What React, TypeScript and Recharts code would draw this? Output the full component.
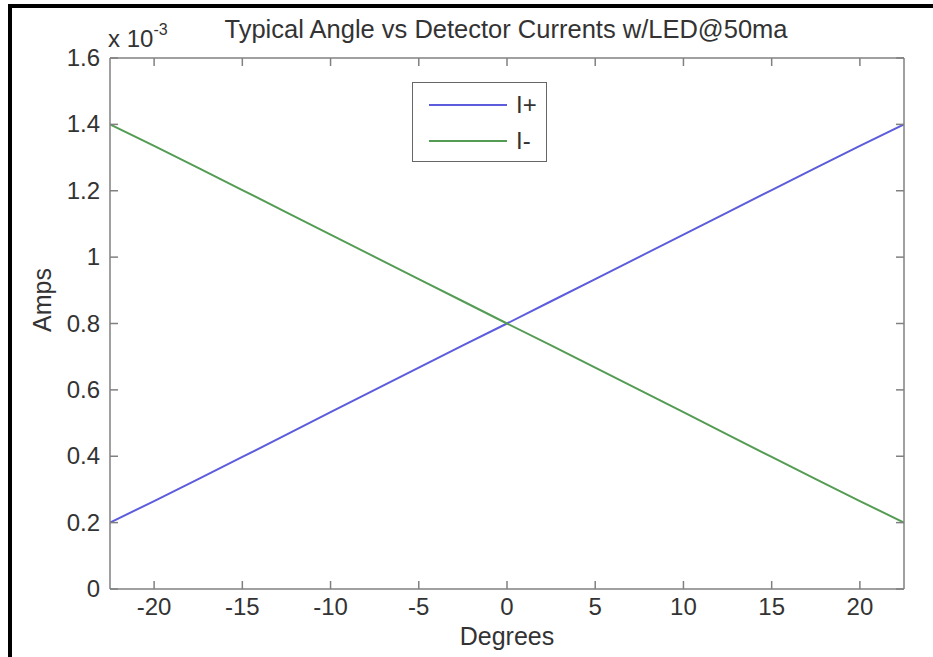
import React from 'react';
import { LineChart, Line, XAxis, YAxis, Legend, Label } from 'recharts';

// angle in degrees, currents in units of 1e-3 A
const degrees = [-22.5, -20, -17.5, -15, -12.5, -10, -7.5, -5, -2.5, 0, 2.5, 5, 7.5, 10, 12.5, 15, 17.5, 20, 22.5];
const iPlus = [0.2, 0.265, 0.331, 0.398, 0.465, 0.533, 0.6, 0.667, 0.734, 0.8, 0.867, 0.934, 1.001, 1.068, 1.135, 1.202, 1.269, 1.335, 1.4];
const iMinus = [1.4, 1.335, 1.269, 1.202, 1.135, 1.068, 1.001, 0.934, 0.867, 0.8, 0.734, 0.667, 0.6, 0.533, 0.465, 0.398, 0.331, 0.265, 0.2];

const xTicks = [-20, -15, -10, -5, 0, 5, 10, 15, 20];
const yTicks = [0, 0.2, 0.4, 0.6, 0.8, 1, 1.2, 1.4, 1.6];
const yTickLabels = ['0', '0.2', '0.4', '0.6', '0.8', '1', '1.2', '1.4', '1.6'];

const series = [
  { key: 'iPlus', name: 'I+', color: '#5c5cdc' },
  { key: 'iMinus', name: 'I-', color: '#549c54' },
];

const data = degrees.map((d, i) => ({ deg: d, iPlus: iPlus[i], iMinus: iMinus[i] }));

const FONT = '"Liberation Sans", Arial, sans-serif';
const AXIS = '#808080';
const TEXT = '#333333';
const TICK_LEN = 8;

// tick marks point into the plot, like MATLAB axes
const BottomTick = (props: any) => {
  const { x, y, payload } = props;
  return (
    <g>
      <line x1={x} x2={x} y1={y} y2={y - TICK_LEN} stroke={AXIS} strokeWidth={1.5} />
      <text x={x} y={y + 26} textAnchor="middle" fill={TEXT} fontSize={24} fontFamily={FONT}>
        {payload.value}
      </text>
    </g>
  );
};

const TopTick = (props: any) => {
  const { x, y } = props;
  return <line x1={x} x2={x} y1={y} y2={y + TICK_LEN} stroke={AXIS} strokeWidth={1.5} />;
};

const LeftTick = (props: any) => {
  const { x, y, payload } = props;
  const label = yTickLabels[yTicks.indexOf(payload.value)] ?? String(payload.value);
  return (
    <g>
      <line x1={x} x2={x + TICK_LEN} y1={y} y2={y} stroke={AXIS} strokeWidth={1.5} />
      <text x={x - 10} y={y + 8} textAnchor="end" fill={TEXT} fontSize={24} fontFamily={FONT}>
        {label}
      </text>
    </g>
  );
};

const RightTick = (props: any) => {
  const { x, y } = props;
  return <line x1={x} x2={x - TICK_LEN} y1={y} y2={y} stroke={AXIS} strokeWidth={1.5} />;
};

const LegendBox = () => (
  <div
    style={{
      position: 'relative',
      width: 133,
      height: 78,
      border: '1px solid #666',
      background: '#fff',
      fontFamily: FONT,
      fontSize: 24,
      color: TEXT,
    }}
  >
    {series.map((s, i) => (
      <div key={s.key} style={{ position: 'absolute', left: 16, top: 10 + i * 36, height: 24, display: 'flex', alignItems: 'center' }}>
        <div style={{ width: 78, height: 2, background: s.color }} />
        <span style={{ marginLeft: 9, lineHeight: '24px' }}>{s.name}</span>
      </div>
    ))}
  </div>
);

export default function App() {
  return (
    <div style={{ position: 'absolute', left: 0, top: 0, width: 933, height: 657, background: '#fff', fontFamily: FONT }}>
      <div
        style={{
          position: 'absolute',
          left: 8,
          top: 4,
          width: 925,
          height: 653,
          borderTop: '4px solid #000',
          borderLeft: '4px solid #000',
          boxSizing: 'border-box',
        }}
      />
      <div
        style={{
          position: 'absolute',
          left: 206,
          top: 17,
          width: 600,
          textAlign: 'center',
          fontSize: 25.5,
          lineHeight: '25px',
          color: TEXT,
          whiteSpace: 'nowrap',
          zIndex: 2,
        }}
      >
        Typical Angle vs Detector Currents w/LED@50ma
      </div>
      <div style={{ position: 'absolute', left: 108, top: 27, fontSize: 24, lineHeight: '24px', color: TEXT, whiteSpace: 'nowrap', zIndex: 2 }}>
        x 10<span style={{ fontSize: 16, position: 'relative', top: -12 }}>-3</span>
      </div>
      <LineChart width={933} height={657} data={data} margin={{ top: 28, right: 0, bottom: 28, left: 50 }}>
        <XAxis
          dataKey="deg"
          type="number"
          domain={[-22.5, 22.5]}
          ticks={xTicks}
          interval={0}
          allowDataOverflow
          height={40}
          axisLine={{ stroke: AXIS, strokeWidth: 1.5 }}
          tickLine={false}
          tickSize={0}
          tickMargin={0}
          tick={<BottomTick />}
        >
          <Label value="Degrees" position="insideBottom" offset={-16} fill={TEXT} fontSize={25} fontFamily={FONT} />
        </XAxis>
        <XAxis
          xAxisId="top"
          dataKey="deg"
          orientation="top"
          type="number"
          domain={[-22.5, 22.5]}
          ticks={xTicks}
          interval={0}
          allowDataOverflow
          height={30}
          axisLine={{ stroke: AXIS, strokeWidth: 1.5 }}
          tickLine={false}
          tickSize={0}
          tickMargin={0}
          tick={<TopTick />}
        />
        <YAxis
          type="number"
          domain={[0, 1.6]}
          ticks={yTicks}
          interval={0}
          allowDataOverflow
          width={60}
          axisLine={{ stroke: AXIS, strokeWidth: 1.5 }}
          tickLine={false}
          tickSize={0}
          tickMargin={0}
          tick={<LeftTick />}
        >
          <Label
            content={() => (
              <text x={51} y={300} transform="rotate(-90 51 300)" textAnchor="middle" fill={TEXT} fontSize={25} fontFamily={FONT}>
                Amps
              </text>
            )}
          />
        </YAxis>
        <YAxis
          yAxisId="right"
          orientation="right"
          type="number"
          domain={[0, 1.6]}
          ticks={yTicks}
          interval={0}
          allowDataOverflow
          width={29}
          axisLine={{ stroke: AXIS, strokeWidth: 1.5 }}
          tickLine={false}
          tickSize={0}
          tickMargin={0}
          tick={<RightTick />}
        />
        <Line
          xAxisId="top"
          yAxisId="right"
          dataKey="iPlus"
          stroke="none"
          dot={false}
          activeDot={false}
          legendType="none"
          isAnimationActive={false}
        />
        {series.map((s) => (
          <Line
            key={s.key}
            type="linear"
            dataKey={s.key}
            name={s.name}
            stroke={s.color}
            strokeWidth={2}
            dot={false}
            isAnimationActive={false}
          />
        ))}
        <Legend
          layout="vertical"
          align="center"
          verticalAlign="middle"
          content={<LegendBox />}
          wrapperStyle={{ left: 412, top: 82, width: 135, height: 80 }}
        />
      </LineChart>
    </div>
  );
}
